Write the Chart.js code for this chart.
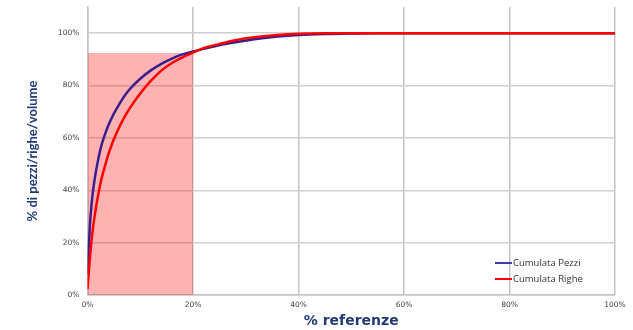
<!DOCTYPE html>
<html>
<head>
<meta charset="utf-8">
<script src="https://cdn.jsdelivr.net/npm/chart.js@4.4.0/dist/chart.umd.min.js"></script>
<style>
  html, body { margin: 0; padding: 0; background: #ffffff; }
  #wrap { width: 633px; height: 330px; position: relative; }
</style>
</head>
<body>
<div id="wrap"><canvas id="chart"></canvas></div>
<script>
// % of SKUs (x) and cumulative share (y)
const xPercent = [0, 0.25, 0.5, 0.75, 1, 1.5, 2, 2.5, 3, 4, 5, 6, 7, 8, 10, 12, 14, 16, 18, 20, 22, 25, 28, 32, 36, 40, 45, 50, 55, 60, 70, 80, 90, 100];
const cumulataPezzi = [8, 19, 28, 34, 39, 46, 51.5, 56, 59.5, 65, 69.3, 72.8, 76, 78.6, 82.6, 85.8, 88.3, 90.3, 91.9, 93.0, 94.0, 95.4, 96.5, 97.8, 98.7, 99.3, 99.7, 99.9, 100, 100, 100, 100, 100, 100];
const cumulataRighe = [2.3, 9, 15, 20.5, 25, 32, 38, 43, 47, 54, 59.5, 64, 67.9, 71.3, 77, 81.8, 85.7, 88.6, 90.8, 92.6, 94.3, 95.9, 97.3, 98.5, 99.3, 99.8, 100, 100, 100, 100, 100, 100, 100, 100];

// Highlighted band: first 20% of SKUs
const bandX = [0, 20];
const bandLevel = 92.4;

const xTicks = [0, 20, 40, 60, 80, 100];
const yTicks = [0, 20, 40, 60, 80, 100];

const seriesNames = ['Cumulata Pezzi', 'Cumulata Righe'];
const seriesColors = ['#3B1E8E', '#FF0000'];

const toPoints = (xs, ys) => xs.map((x, i) => ({ x: x, y: ys[i] }));

// Legend drawn inside the plot, bottom-right
const innerLegend = {
  id: 'innerLegend',
  afterDatasetsDraw(chart) {
    const { ctx, chartArea } = chart;
    const rows = chart.data.datasets.filter(d => d.showInLegend);
    ctx.save();
    ctx.font = '9.5px "Open Sans", sans-serif';
    ctx.textBaseline = 'middle';
    ctx.textAlign = 'left';
    rows.forEach((d, i) => {
      const y = chartArea.bottom - 32 + i * 16;
      const x0 = chartArea.right - 120;
      ctx.strokeStyle = d.legendColor;
      ctx.lineWidth = 2;
      ctx.beginPath();
      ctx.moveTo(x0, y);
      ctx.lineTo(x0 + 17, y);
      ctx.stroke();
      ctx.fillStyle = '#333333';
      ctx.fillText(d.label, x0 + 18, y);
    });
    ctx.restore();
  }
};

new Chart(document.getElementById('chart'), {
  type: 'line',
  data: {
    datasets: [
      {
        label: seriesNames[0],
        data: toPoints(xPercent, cumulataPezzi),
        borderColor: seriesColors[0],
        legendColor: '#3C3CB0',
        showInLegend: true,
        borderWidth: 2.5,
        pointRadius: 0,
        cubicInterpolationMode: 'monotone',
        fill: false,
        order: 1
      },
      {
        label: seriesNames[1],
        data: toPoints(xPercent, cumulataRighe),
        borderColor: seriesColors[1],
        legendColor: seriesColors[1],
        showInLegend: true,
        borderWidth: 2.5,
        pointRadius: 0,
        cubicInterpolationMode: 'monotone',
        fill: false,
        order: 0
      },
      {
        label: 'band',
        data: bandX.map(x => ({ x: x, y: bandLevel })),
        borderWidth: 0,
        borderColor: 'rgba(0,0,0,0)',
        backgroundColor: 'rgba(255,0,0,0.3)',
        pointRadius: 0,
        fill: 'origin',
        tension: 0,
        order: 5
      }
    ]
  },
  options: {
    responsive: true,
    maintainAspectRatio: false,
    animation: false,
    events: [],
    layout: { padding: { left: 0, right: 18, top: 7, bottom: 0 } },
    plugins: {
      legend: { display: false },
      tooltip: { enabled: false },
      filler: { drawTime: 'beforeDatasetsDraw' }
    },
    scales: {
      x: {
        type: 'linear',
        min: 0,
        max: 100,
        afterBuildTicks: axis => { axis.ticks = xTicks.map(v => ({ value: v })); },
        afterFit: scale => { scale.height = 35; scale.paddingLeft = 0; scale.paddingRight = 0; },
        grid: { color: '#C4C4C4', lineWidth: 1.5, drawTicks: false },
        border: { color: '#C4C4C4', width: 1.5 },
        ticks: {
          padding: 6,
          maxRotation: 0,
          color: '#404040',
          font: { family: 'DejaVu Sans', size: 7.5 },
          callback: v => v + '%'
        },
        title: {
          display: true,
          text: '% referenze',
          color: '#1F3A78',
          font: { family: 'DejaVu Sans', size: 14, weight: 'bold', lineHeight: 1 },
          padding: { top: 0, bottom: 2 }
        }
      },
      y: {
        type: 'linear',
        min: 0,
        max: 110,
        afterBuildTicks: axis => { axis.ticks = yTicks.map(v => ({ value: v })); },
        afterFit: scale => { scale.width = 87.5; scale.paddingTop = 0; scale.paddingBottom = 0; },
        grid: { color: '#D0D0D0', lineWidth: 1.5, drawTicks: false },
        border: { color: '#C4C4C4', width: 1.5 },
        ticks: {
          padding: 8,
          color: '#404040',
          font: { family: 'DejaVu Sans', size: 7.5 },
          callback: v => v + '%'
        },
        title: {
          display: true,
          text: '% di pezzi/righe/volume',
          color: '#1F3A78',
          font: { family: 'Lato', size: 13, weight: 'bold', lineHeight: 1 },
          padding: { top: 26, bottom: 0 }
        }
      }
    }
  },
  plugins: [innerLegend]
});
</script>
</body>
</html>
